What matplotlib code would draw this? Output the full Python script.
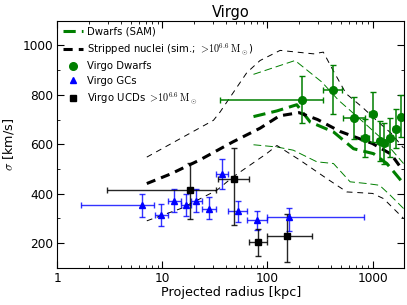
import matplotlib
matplotlib.use("Agg")
import matplotlib.pyplot as plt
from matplotlib.ticker import FuncFormatter, NullFormatter
import numpy as np

plt.rcParams['mathtext.fontset'] = 'cm'
plt.rcParams['font.family'] = ['DejaVu Sans']

# --- Data -------------------------------------------------------------
# Virgo dwarfs
dw_r = [214, 419, 664, 845, 1000, 1166, 1300, 1473, 1667, 1862]
dw_s = [780, 821, 706, 624, 723, 613, 607, 627, 663, 710]
dw_s_lo = [94, 100, 83, 75, 115, 80, 85, 80, 80, 80]
dw_s_hi = [95, 98, 85, 80, 88, 82, 78, 80, 80, 88]
dw_r_lo = [179, 78, 143, 75, 80, 70, 80, 85, 90, 95]
dw_r_hi = [122, 91, 175, 80, 90, 70, 80, 85, 90, 95]

# Virgo GCs
gc_r = [6.36, 9.7, 13.0, 16.7, 21.1, 28.0, 36.7, 52.6, 79, 158.7]
gc_s = [353, 313, 371, 354, 371, 339, 479, 328, 293, 304]
gc_s_lo = [47, 45, 46, 46, 46, 41, 59, 43, 40, 54]
gc_s_hi = [47, 45, 46, 46, 46, 46, 62, 42, 35, 40]
gc_r_lo = [4.68, 1.2, 1.6, 1.8, 2.2, 4.0, 4.2, 10.6, 15, 58.7]
gc_r_hi = [2.04, 1.5, 2.0, 2.0, 2.6, 4.5, 5.8, 11.4, 19, 674]

# Virgo UCDs
ucd_r = [18.1, 47.5, 82, 153]
ucd_s = [413, 459, 203, 230]
ucd_s_lo = [117, 186, 56, 105]
ucd_s_hi = [112, 126, 56, 87]
ucd_r_lo = [15.15, 13.5, 16, 53]
ucd_r_hi = [14.3, 18.5, 16, 112]

# Dwarfs (SAM): median and spread
sam_r = [73.6, 123, 190, 255, 425, 659, 1022, 1370, 1973]
sam_med = [712, 735, 760, 690, 650, 582, 562, 522, 441]
sam_up_r = [73.6, 183, 329, 475, 612, 883, 1273, 1973]
sam_up = [883, 939, 852, 778, 737, 677, 616, 522]
sam_lo_r = [73.6, 123, 176, 295, 425, 612, 883, 1166, 1473, 1973]
sam_lo = [598, 589, 576, 529, 522, 448, 441, 434, 394, 340]

# Stripped nuclei (sim.): median and spread
sn_r = [7.1, 12, 22.8, 47, 85, 130, 200, 300, 490, 1000, 1500, 1900]
sn_med = [441, 480, 537, 610, 665, 715, 728, 700, 652, 603, 560, 500]
sn_up_r = [7.1, 30.6, 35.3, 63.6, 85, 132, 274, 340, 420, 560, 800, 1100, 1500, 1973]
sn_up = [548, 697, 730, 890, 939, 980, 966, 973, 900, 805, 750, 695, 645, 585]
sn_lo_r = [7.1, 15, 33, 47, 98, 123, 205, 367, 570, 1000, 1273, 1700, 1973]
sn_lo = [290, 340, 414, 468, 562, 595, 535, 461, 407, 401, 380, 327, 300]

xticks = [1, 10, 100, 1000]
yticks = [200, 400, 600, 800, 1000]

# --- Figure -----------------------------------------------------------
fig = plt.figure(figsize=(4.07, 3.05), dpi=100)
ax = fig.add_axes([0.141, 0.122, 0.852, 0.810])

green = '#007f00'
blue = '#0000ff'

ax.plot(sam_r, sam_med, '--', color=green, lw=2.2, dashes=(4, 2), label='Dwarfs (SAM)')
ax.plot(sn_r, sn_med, '--', color='k', lw=2.2, dashes=(3, 2),
        label=r'Stripped nuclei (sim.; $>\!10^{6.6}\,\mathrm{M_\odot}$)')
ax.plot(sam_up_r, sam_up, '--', color=green, lw=0.7, dashes=(8, 4))
ax.plot(sam_lo_r, sam_lo, '--', color=green, lw=0.7, dashes=(8, 4))
ax.plot(sn_up_r, sn_up, '--', color='k', lw=0.7, dashes=(6, 5))
ax.plot(sn_lo_r, sn_lo, '--', color='k', lw=0.7, dashes=(6, 5))

ax.errorbar(dw_r, dw_s, yerr=[dw_s_lo, dw_s_hi], xerr=[dw_r_lo, dw_r_hi],
            fmt='none', ecolor=green, elinewidth=1.1, capsize=2.5, capthick=1)
ax.errorbar(gc_r, gc_s, yerr=[gc_s_lo, gc_s_hi], xerr=[gc_r_lo, gc_r_hi],
            fmt='none', ecolor=blue, elinewidth=1.0, capsize=2.5, capthick=1, alpha=0.8)
ax.errorbar(ucd_r, ucd_s, yerr=[ucd_s_lo, ucd_s_hi], xerr=[ucd_r_lo, ucd_r_hi],
            fmt='none', ecolor='k', elinewidth=1.0, capsize=2.5, capthick=1, alpha=0.85)

ax.plot(dw_r, dw_s, 'o', color=green, ms=5.5, mec=green, label='Virgo Dwarfs')
ax.plot(gc_r, gc_s, '^', color=blue, ms=5, mec=blue, label='Virgo GCs')
ax.plot(ucd_r, ucd_s, 's', color='k', ms=4.5, label=r'Virgo UCDs $>\!10^{6.6}\,\mathrm{M_\odot}$')

ax.set_xscale('log')
ax.set_xlim(1, 2000)
ax.set_ylim(100, 1100)
ax.set_xticks(xticks)
ax.xaxis.set_major_formatter(FuncFormatter(lambda v, p: '%g' % v))
ax.xaxis.set_minor_formatter(NullFormatter())
ax.set_yticks(yticks)
ax.set_yticks(np.arange(100, 1101, 100), minor=True)
ax.tick_params(which='both', direction='in', top=True, right=True, labelsize=8.7, pad=3)
ax.tick_params(which='major', length=5)
ax.tick_params(which='minor', length=2.5)

ax.set_xlabel('Projected radius [kpc]', fontsize=9.2, labelpad=1)
ax.set_ylabel(r'$\sigma$ [km/s]', fontsize=9.2)
ax.yaxis.set_label_coords(-0.12, 0.5)
ax.set_title('Virgo', fontsize=10.5, pad=3)

leg = ax.legend(loc='upper left', frameon=False, fontsize=7.3, handlelength=2.0,
                labelspacing=0.45, borderaxespad=0.15, handletextpad=0.4, numpoints=1)

fig.savefig('out.png', dpi=100)
